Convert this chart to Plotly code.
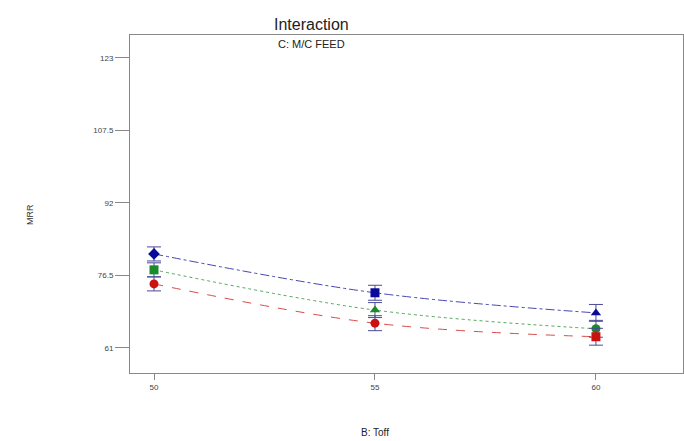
import plotly.graph_objects as go

toff = [50, 55, 60]
feed_high = [81.1, 72.8, 68.5]
feed_mid = [77.7, 69.1, 65.1]
feed_low = [74.7, 66.3, 63.4]
err_half = [1.5, 1.6, 1.8]
y_ticks = [61, 76.5, 92, 107.5, 123]
y_tick_labels = ["61", "76.5", "92", "107.5", "123"]
x_ticks = [50, 55, 60]

series = [
    ("High", feed_high, "#0a0a9a", "dashdot", ["diamond", "square", "triangle-up"]),
    ("Mid", feed_mid, "#1a8a2a", "dot", ["square", "triangle-up", "circle"]),
    ("Low", feed_low, "#cc1111", "dash", ["circle", "circle", "square"]),
]

fig = go.Figure()
for name, vals, col, dash, syms in series:
    fig.add_trace(go.Scatter(
        x=toff, y=vals, mode="lines", line=dict(color=col, width=1, dash=dash, shape="spline"),
        opacity=0.75, showlegend=False, hoverinfo="skip"))
    fig.add_trace(go.Scatter(
        x=toff, y=vals, mode="markers",
        marker=dict(color=col, size=9, symbol=syms, line=dict(width=0)),
        error_y=dict(type="data", array=err_half, color="#4a4a9a", thickness=1, width=7),
        showlegend=False, name=name))

fig.update_layout(
    width=684, height=441,
    margin=dict(l=130, r=1, t=35, b=68),
    paper_bgcolor="white", plot_bgcolor="white",
    showlegend=False,
    font=dict(family="Liberation Sans, Arial, sans-serif", color="#333"),
    annotations=[
        dict(text="Interaction", x=0.5, y=1.0, xref="paper", yref="paper", xanchor="center",
             yanchor="bottom", showarrow=False, font=dict(size=16, color="#222"), xshift=-95, yshift=0),
        dict(text="C: M/C FEED", x=0.5, y=1.0, xref="paper", yref="paper", xanchor="center",
             yanchor="top", showarrow=False, font=dict(size=11, color="#222"), xshift=-95, yshift=-1),
        dict(text="B: Toff", x=0.5, y=0, xref="paper", yref="paper", xanchor="center",
             yanchor="top", showarrow=False, font=dict(size=10, color="#222"), xshift=-32, yshift=-52),
        dict(text="MRR", x=0, y=0.5, xref="paper", yref="paper", xanchor="center",
             yanchor="middle", showarrow=False, textangle=-90, font=dict(size=9, color="#333"),
             xshift=-100, yshift=-11),
    ],
)
fig.update_xaxes(
    range=[49.457, 61.97], tickvals=x_ticks, ticktext=[str(v) for v in x_ticks],
    showgrid=False, zeroline=False, showline=True, linecolor="#888", linewidth=1, mirror=True,
    ticks="outside", ticklen=6, tickcolor="#888", tickfont=dict(size=8, color="#444"),
)
fig.update_yaxes(
    range=[55.65, 127.9], tickvals=y_ticks, ticktext=y_tick_labels,
    showgrid=False, zeroline=False, showline=True, linecolor="#888", linewidth=1, mirror=True,
    ticks="outside", ticklen=14, tickcolor="#888", tickfont=dict(size=8, color="#444"),
)
fig.write_html("out.html")
